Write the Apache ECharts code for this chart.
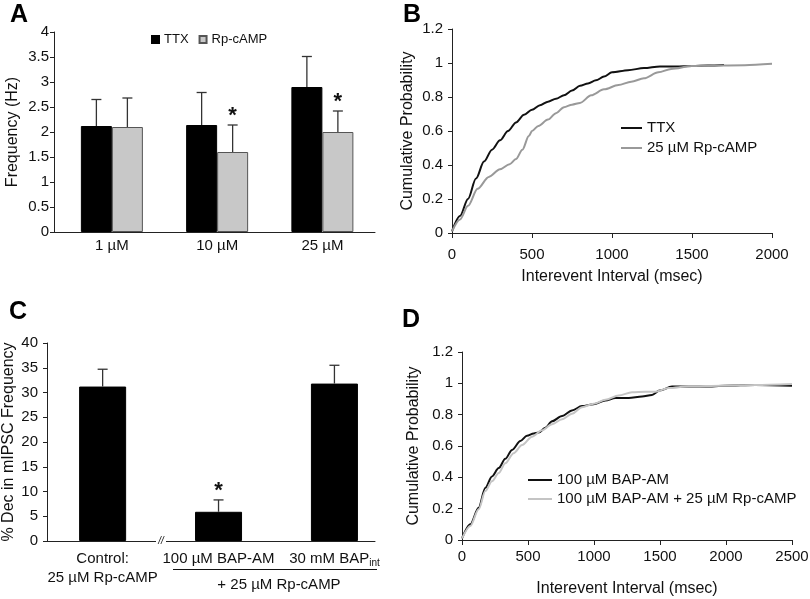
<!DOCTYPE html>
<html>
<head>
<meta charset="utf-8">
<script src="https://cdn.jsdelivr.net/npm/echarts@6/dist/echarts.min.js"></script>
<style>
html, body { margin: 0; padding: 0; background: #fff; }
#main { width: 810px; height: 599px; }
</style>
</head>
<body>
<div id="main"></div>
<script>
// A: frequency per concentration
var concLabels = ['1 µM', '10 µM', '25 µM'];
var ttxMean = [2.12, 2.14, 2.90];
var ttxErr = [0.53, 0.65, 0.61];
var rpMean = [2.10, 1.60, 2.00];
var rpErr = [0.58, 0.54, 0.42];
var rpSig = [0, 1, 1];

// B: cumulative probability, TTX vs Rp-cAMP
var ttxX = [0, 50, 100, 150, 200, 250, 300, 350, 400, 450, 500, 550, 600, 650, 700, 750, 800, 850, 900, 950, 1000, 1100, 1200, 1300, 1400, 1500, 1600, 1700];
var ttxY = [0.01, 0.10, 0.20, 0.32, 0.42, 0.49, 0.545, 0.60, 0.65, 0.695, 0.725, 0.752, 0.772, 0.79, 0.81, 0.838, 0.866, 0.88, 0.898, 0.92, 0.945, 0.958, 0.97, 0.98, 0.98, 0.982, 0.985, 0.988];
var rpX = [0, 50, 100, 160, 230, 300, 360, 400, 440, 480, 500, 540, 600, 650, 700, 750, 800, 870, 950, 1040, 1120, 1200, 1290, 1370, 1500, 1620, 1830, 2000];
var rpY = [0.01, 0.08, 0.16, 0.26, 0.33, 0.375, 0.405, 0.435, 0.49, 0.57, 0.60, 0.63, 0.667, 0.705, 0.74, 0.755, 0.765, 0.81, 0.845, 0.87, 0.89, 0.91, 0.945, 0.965, 0.982, 0.985, 0.987, 0.995];

// C: % decrease in mIPSC frequency
var cLabels = ['Control:\n25 µM Rp-cAMP', '100 µM BAP-AM', '30 mM BAP_int'];
var cMean = [31.2, 5.9, 31.8];
var cErr = [3.5, 2.4, 3.7];
var cSig = [0, 1, 0];

// D: cumulative probability, BAP-AM
var bapX = [0, 63, 126, 177, 227, 278, 328, 379, 442, 492, 543, 581, 631, 682, 758, 833, 909, 997, 1086, 1162, 1263, 1364, 1439, 1497, 1591, 1717, 1843, 1995, 2222, 2500];
var bapY = [0.01, 0.10, 0.206, 0.333, 0.406, 0.459, 0.518, 0.575, 0.632, 0.665, 0.68, 0.686, 0.716, 0.758, 0.792, 0.827, 0.855, 0.867, 0.89, 0.907, 0.907, 0.916, 0.926, 0.954, 0.979, 0.979, 0.979, 0.985, 0.989, 0.985];
var bapRpX = [0, 63, 126, 177, 227, 278, 328, 391, 455, 530, 606, 682, 758, 833, 909, 997, 1086, 1187, 1288, 1389, 1465, 1566, 1717, 1970, 2222, 2500];
var bapRpY = [0.01, 0.09, 0.196, 0.312, 0.375, 0.427, 0.49, 0.554, 0.606, 0.659, 0.70, 0.739, 0.77, 0.806, 0.848, 0.869, 0.895, 0.922, 0.943, 0.947, 0.947, 0.97, 0.981, 0.985, 0.989, 0.996];

var FONT = 'Liberation Sans, Arial, sans-serif';
var AX = '#222';

function pairs(xs, ys) {
	var out = [];
	for (var i = 0; i < xs.length; i++) out.push([xs[i], ys[i]]);
	return out;
}
function barData(means) {
	return means.map(function (m, i) { return [i, m]; });
}
function errData(means, errs, sig) {
	return means.map(function (m, i) { return [i, m, errs[i], sig ? sig[i] : 0]; });
}
// error bar + optional asterisk, dx = pixel offset from category centre
function errRender(dx) {
	return function (params, api) {
		var x = api.value(0), m = api.value(1), e = api.value(2), s = api.value(3);
		var p0 = api.coord([x, m]);
		var p1 = api.coord([x, m + e]);
		var cx = p0[0] + dx;
		var kids = [
			{ type: 'line', shape: { x1: cx, y1: p0[1], x2: cx, y2: p1[1] }, style: { stroke: '#333', lineWidth: 1.3 } },
			{ type: 'line', shape: { x1: cx - 5, y1: p1[1], x2: cx + 5, y2: p1[1] }, style: { stroke: '#333', lineWidth: 1.3 } }
		];
		if (s) {
			kids.push({ type: 'text', x: cx, y: p1[1] - 9,
				style: { text: '*', font: 'bold 22px ' + FONT, fill: '#111', align: 'center', verticalAlign: 'middle' } });
		}
		return { type: 'group', children: kids };
	};
}
function valueY(gi, min, max, step, name, gap, margin) {
	return {
		type: 'value', gridIndex: gi, min: min, max: max, interval: step,
		name: name, nameLocation: 'middle', nameGap: gap,
		nameTextStyle: { fontSize: 16, color: '#111', fontFamily: FONT },
		axisLine: { show: true, onZero: false, lineStyle: { color: AX, width: 1 } },
		axisTick: { show: true, length: 4, lineStyle: { color: AX } },
		axisLabel: { fontSize: 15, color: '#111', fontFamily: FONT, margin: margin },
		splitLine: { show: false }
	};
}
function msX(gi, max, gap, margin) {
	return {
		type: 'value', gridIndex: gi, min: 0, max: max, interval: 500,
		name: 'Interevent Interval (msec)', nameLocation: 'middle', nameGap: gap,
		nameTextStyle: { fontSize: 16, color: '#111', fontFamily: FONT },
		axisLine: { show: true, onZero: false, lineStyle: { color: AX, width: 1 } },
		axisTick: { show: true, length: 5, lineStyle: { color: AX } },
		axisLabel: { fontSize: 15, color: '#111', fontFamily: FONT, margin: margin,
			formatter: function (v) { return String(v); } },
		splitLine: { show: false }
	};
}
function cdfLine(name, xs, ys, gi, color) {
	return {
		name: name, type: 'line', xAxisIndex: gi, yAxisIndex: gi,
		data: pairs(xs, ys), symbol: 'none', smooth: 0.3, smoothMonotone: 'x',
		lineStyle: { color: color, width: 2 }, itemStyle: { color: color }
	};
}

var myChart = echarts.init(document.getElementById('main'));

var option = {
	animation: false,
	backgroundColor: '#fff',
	textStyle: { fontFamily: FONT },
	grid: [
		{ left: 54, top: 32, width: 321, height: 200, outerBoundsMode: 'none' },
		{ left: 452, top: 29, width: 320, height: 204, outerBoundsMode: 'none' },
		{ left: 47, top: 343, width: 328, height: 198, outerBoundsMode: 'none' },
		{ left: 462, top: 352, width: 330, height: 188, outerBoundsMode: 'none' }
	],
	xAxis: [
		{
			type: 'value', gridIndex: 0, min: -0.55, max: 2.5,
			axisLine: { show: true, onZero: false, lineStyle: { color: AX, width: 1 } },
			axisTick: { show: false },
			splitLine: { show: false },
			axisLabel: {
				customValues: [0, 1, 2], fontSize: 15, color: '#111', fontFamily: FONT, margin: 6,
				formatter: function (v) { return concLabels[v]; }
			}
		},
		msX(1, 2000, 36, 14),
		{
			type: 'value', gridIndex: 2, min: -0.48, max: 2.35,
			axisLine: { show: true, onZero: false, lineStyle: { color: AX, width: 1 } },
			axisTick: { show: false },
			splitLine: { show: false },
			axisLabel: {
				customValues: [0, 1, 2], fontSize: 15, color: '#111', fontFamily: FONT,
				margin: 8, lineHeight: 19,
				formatter: function (v) {
					var parts = cLabels[v].split('_');
					return parts.length > 1 ? '{n|' + parts[0] + '}{s|' + parts[1] + '}' : cLabels[v];
				},
				rich: {
					n: { fontSize: 15, lineHeight: 19, color: '#111', fontFamily: FONT },
					s: { fontSize: 10, lineHeight: 10, verticalAlign: 'bottom', color: '#111', fontFamily: FONT }
				}
			}
		},
		msX(3, 2500, 41, 9)
	],
	yAxis: [
		valueY(0, 0, 4, 0.5, 'Frequency (Hz)', 33, 5),
		valueY(1, 0, 1.2, 0.2, 'Cumulative Probability', 36, 9),
		valueY(2, 0, 40, 5, '% Dec in mIPSC Frequency', 30, 9),
		valueY(3, 0, 1.2, 0.2, 'Cumulative Probability', 40, 9)
	],
	legend: [
		{
			data: ['TTX', 'Rp-cAMP'], left: 151, top: 33, padding: 0,
			icon: 'rect', itemWidth: 7, itemHeight: 7, itemGap: 10,
			textStyle: { fontSize: 13, color: '#111', fontFamily: FONT }
		},
		{
			data: ['TTX (B)', '25 µM Rp-cAMP'], orient: 'vertical', left: 621, top: 120, padding: 0,
			icon: 'rect', itemWidth: 21, itemHeight: 2, itemGap: 4,
			formatter: function (n) { return n.replace(' (B)', ''); },
			textStyle: { fontSize: 15, lineHeight: 16, color: '#111', fontFamily: FONT }
		},
		{
			data: ['100 µM BAP-AM', '100 µM BAP-AM + 25 µM Rp-cAMP'], orient: 'vertical', left: 528, top: 472, padding: 0,
			icon: 'rect', itemWidth: 24, itemHeight: 2, itemGap: 3,
			textStyle: { fontSize: 15, lineHeight: 16, color: '#111', fontFamily: FONT }
		}
	],
	graphic: [
		{ type: 'text', left: 10, top: 3, style: { text: 'A', font: 'bold 25px ' + FONT, fill: '#000' } },
		{ type: 'text', left: 403, top: 3, style: { text: 'B', font: 'bold 25px ' + FONT, fill: '#000' } },
		{ type: 'text', left: 9, top: 300, style: { text: 'C', font: 'bold 25px ' + FONT, fill: '#000' } },
		{ type: 'text', left: 402, top: 308, style: { text: 'D', font: 'bold 25px ' + FONT, fill: '#000' } },
		{ type: 'rect', shape: { x: 156, y: 538, width: 10, height: 5 }, style: { fill: '#fff' }, z: 100 },
		{ type: 'text', x: 161, y: 541, z: 101, style: { text: '//', font: 'italic 10px ' + FONT, fill: '#111', align: 'center', verticalAlign: 'middle' } },
		{ type: 'line', shape: { x1: 173, y1: 569.5, x2: 377, y2: 569.5 }, style: { stroke: '#111', lineWidth: 1 } },
		{ type: 'text', x: 279, y: 585, style: { text: '+ 25 µM Rp-cAMP', font: '15px ' + FONT, fill: '#111', align: 'center', verticalAlign: 'middle' } }
	],
	series: [
		{
			name: 'TTX', type: 'bar', xAxisIndex: 0, yAxisIndex: 0,
			data: barData(ttxMean), barWidth: 31, barGap: '0%',
			itemStyle: { color: '#000', borderColor: '#000', borderWidth: 1 }
		},
		{
			name: 'Rp-cAMP', type: 'bar', xAxisIndex: 0, yAxisIndex: 0,
			data: barData(rpMean), barWidth: 31, barGap: '0%',
			itemStyle: { color: '#c8c8c8', borderColor: '#555', borderWidth: 1 }
		},
		{
			type: 'custom', xAxisIndex: 0, yAxisIndex: 0, z: 5,
			data: errData(ttxMean, ttxErr, null), renderItem: errRender(-15.5)
		},
		{
			type: 'custom', xAxisIndex: 0, yAxisIndex: 0, z: 5,
			data: errData(rpMean, rpErr, rpSig), renderItem: errRender(15.5)
		},
		cdfLine('TTX (B)', ttxX, ttxY, 1, '#111'),
		cdfLine('25 µM Rp-cAMP', rpX, rpY, 1, '#999'),
		{
			name: 'C', type: 'bar', xAxisIndex: 2, yAxisIndex: 2,
			data: barData(cMean), barWidth: 47,
			itemStyle: { color: '#000', borderColor: '#000', borderWidth: 1 }
		},
		{
			type: 'custom', xAxisIndex: 2, yAxisIndex: 2, z: 5,
			data: errData(cMean, cErr, cSig), renderItem: errRender(0)
		},
		cdfLine('100 µM BAP-AM', bapX, bapY, 3, '#111'),
		cdfLine('100 µM BAP-AM + 25 µM Rp-cAMP', bapRpX, bapRpY, 3, '#c4c4c4')
	]
};
myChart.setOption(option, true);
</script>
</body>
</html>
